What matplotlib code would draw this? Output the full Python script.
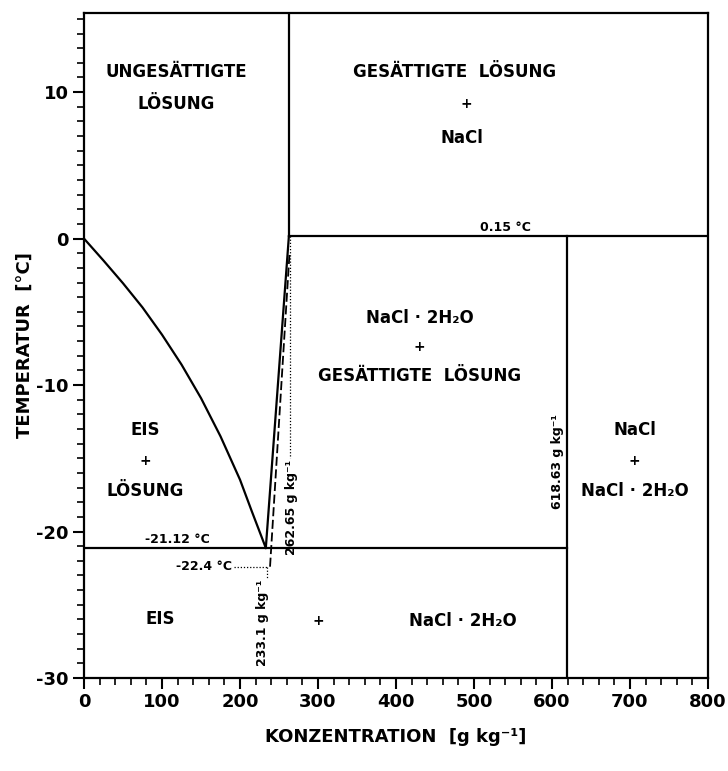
import matplotlib
matplotlib.use("Agg")
import matplotlib.pyplot as plt

plt.rcParams['font.family'] = ['DejaVu Sans']
plt.rcParams['font.weight'] = 'bold'

# Freezing-point curve of ice in NaCl solution (g/kg -> °C)
ice_conc = [0, 25, 50, 75, 100, 125, 150, 175, 200, 215, 233.1]
ice_temp = [0, -1.5, -3.05, -4.7, -6.56, -8.6, -10.89, -13.5, -16.46, -18.6, -21.12]

# Hydrate liquidus (eutectic -> peritectic)
hyd_conc = [233.1, 262.65]
hyd_temp = [-21.12, 0.15]

# Metastable extension (dashed)
meta_conc = [238.5, 263.5]
meta_temp = [-22.4, -1.0]

eutectic_T = -21.12
peritectic_T = 0.15
peritectic_c = 262.65
hydrate_c = 618.63
meta_T = -22.4
eutectic_c = 233.1

x_max = 800
y_min, y_max = -30, 15.4

fig = plt.figure(figsize=(7.28, 7.71), dpi=100)
ax = fig.add_axes([0.1154, 0.1206, 0.8571, 0.8625])
ax.set_xlim(0, x_max)
ax.set_ylim(y_min, y_max)

lw = 1.6
k = 'black'
ax.plot(ice_conc, ice_temp, color=k, lw=lw)
ax.plot(hyd_conc, hyd_temp, color=k, lw=lw)
ax.plot(meta_conc, meta_temp, color=k, lw=1.3, ls=(0, (5, 2)))
# phase boundaries
ax.plot([0, hydrate_c], [eutectic_T, eutectic_T], color=k, lw=lw)
ax.plot([peritectic_c, x_max], [peritectic_T, peritectic_T], color=k, lw=lw)
ax.plot([peritectic_c, peritectic_c], [peritectic_T, y_max], color=k, lw=lw)
ax.plot([hydrate_c, hydrate_c], [y_min, peritectic_T], color=k, lw=lw)

# dotted guide lines
ax.plot([peritectic_c + 2, peritectic_c + 2], [peritectic_T, -15.0], color=k, lw=0.9, ls=(0, (1, 1.5)))
ax.plot([192, eutectic_c + 2], [meta_T, meta_T], color=k, lw=0.9, ls=(0, (1, 1.5)))
ax.plot([eutectic_c + 2, eutectic_c + 2], [meta_T, -23.2], color=k, lw=0.9, ls=(0, (1, 1.5)))

for s in ax.spines.values():
    s.set_linewidth(lw)

ax.set_xticks(range(0, 801, 100))
ax.set_xticks(range(0, 801, 20), minor=True)
ax.set_yticks([-30, -20, -10, 0, 10])
ax.set_yticks(range(-30, 16), minor=True)
ax.tick_params(which='major', length=8, width=1.5, labelsize=13, direction='out', pad=3)
ax.tick_params(which='minor', length=5, width=1.2, direction='out')
ax.set_yticklabels(['-30', '-20', '-10', '0', '10'])
ax.set_xticklabels([str(v) for v in range(0, 801, 100)])
for t in ax.get_xticklabels() + ax.get_yticklabels():
    t.set_fontweight('bold')

ax.set_xlabel('KONZENTRATION  [g kg\u207b\u00b9]', fontsize=13, fontweight='bold', labelpad=12)
ax.set_ylabel('TEMPERATUR  [°C]', fontsize=13, fontweight='bold', labelpad=2)

fs = 12
def label(x, y, s, size=fs, **kw):
    ax.text(x, y, s, ha=kw.pop('ha', 'center'), va=kw.pop('va', 'center'),
            fontsize=size, fontweight='bold', **kw)

hyd = 'NaCl · 2H\u2082O'
label(118, 11.4, 'UNGESÄTTIGTE')
label(118, 9.2, 'LÖSUNG')
label(475, 11.4, 'GESÄTTIGTE  LÖSUNG')
label(490, 9.2, '+', size=10)
label(484, 6.9, 'NaCl')
label(430, -5.4, hyd)
label(430, -7.4, '+', size=10)
label(430, -9.4, 'GESÄTTIGTE  LÖSUNG')
label(78, -13.05, 'EIS')
label(78, -15.2, '+', size=10)
label(78, -17.2, 'LÖSUNG')
label(706, -13.05, 'NaCl')
label(706, -15.2, '+', size=10)
label(706, -17.2, hyd)
label(98, -26.0, 'EIS')
label(300, -26.1, '+', size=10)
label(486, -26.1, hyd)

# annotations of characteristic points
sfs = 9
label(120, -21.0, '-21.12 °C', size=sfs, va='bottom')
label(540, 0.3, '0.15 °C', size=sfs, va='bottom')
label(190, meta_T, '-22.4 °C', size=sfs, ha='right')
label(229, -23.3, '233.1 g kg\u207b\u00b9', size=sfs, va='top', rotation=90)
label(266, -15.1, '262.65 g kg\u207b\u00b9', size=sfs, va='top', rotation=90)
label(616, -12.0, '618.63 g kg\u207b\u00b9', size=sfs, ha='right', va='top', rotation=90)

fig.savefig('out.png', dpi=100)
